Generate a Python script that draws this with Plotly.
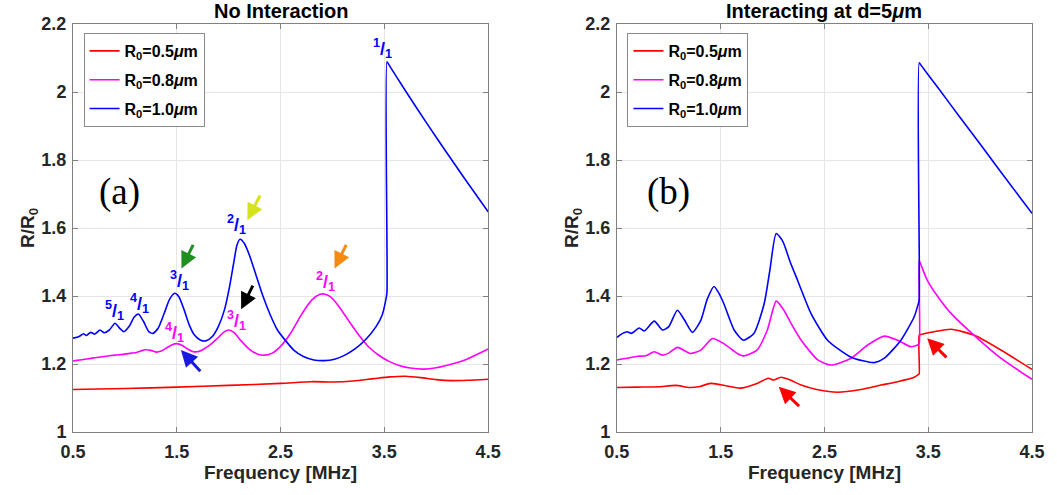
import plotly.graph_objects as go

# ---------------- data ----------------
# Panel (a): No Interaction
a_blue_f = [0.50, 0.56, 0.60, 0.63, 0.67, 0.71, 0.76, 0.80, 0.85, 0.905, 0.95, 0.99, 1.04, 1.09, 1.13,
            1.18, 1.23, 1.27, 1.32, 1.38, 1.43, 1.48, 1.52, 1.57, 1.62, 1.67, 1.73, 1.78, 1.84, 1.90,
            1.96, 2.01, 2.05, 2.08, 2.11, 2.15, 2.20, 2.26, 2.33, 2.40, 2.47, 2.55, 2.63, 2.72, 2.82,
            2.92, 3.02, 3.12, 3.22, 3.32, 3.42, 3.48, 3.515, 3.525, 3.525, 3.54, 3.70, 3.90, 4.10, 4.30, 4.50]
a_blue_v = [1.276, 1.281, 1.289, 1.284, 1.293, 1.288, 1.300, 1.292, 1.300, 1.320, 1.305, 1.295, 1.310, 1.338, 1.347,
            1.325, 1.295, 1.290, 1.305, 1.350, 1.390, 1.408, 1.398, 1.360, 1.315, 1.285, 1.270, 1.268, 1.280, 1.310,
            1.360, 1.430, 1.500, 1.550, 1.567, 1.555, 1.520, 1.465, 1.400, 1.345, 1.300, 1.268, 1.240, 1.222, 1.212,
            1.210, 1.214, 1.226, 1.245, 1.272, 1.310, 1.345, 1.390, 1.410, 2.089, 2.082, 2.005, 1.912, 1.822, 1.734, 1.648]

a_mag_f = [0.50, 0.60, 0.70, 0.80, 0.90, 1.00, 1.06, 1.10, 1.15, 1.20, 1.25, 1.30, 1.35, 1.40, 1.45, 1.50,
           1.55, 1.60, 1.65, 1.70, 1.75, 1.82, 1.90, 1.96, 2.00, 2.05, 2.12, 2.20, 2.28, 2.35, 2.42, 2.50,
           2.60, 2.70, 2.80, 2.88, 2.92, 2.98, 3.06, 3.15, 3.25, 3.35, 3.45, 3.55, 3.65, 3.75, 3.88, 4.00,
           4.15, 4.30, 4.50]
a_mag_v = [1.209, 1.213, 1.218, 1.222, 1.226, 1.229, 1.232, 1.233, 1.238, 1.242, 1.240, 1.235, 1.238, 1.247, 1.256, 1.260,
           1.255, 1.245, 1.237, 1.236, 1.242, 1.256, 1.278, 1.295, 1.300, 1.293, 1.268, 1.243, 1.229, 1.226, 1.232, 1.252,
           1.292, 1.345, 1.388, 1.405, 1.406, 1.398, 1.370, 1.330, 1.287, 1.250, 1.225, 1.207, 1.195, 1.188, 1.185, 1.189,
           1.200, 1.215, 1.244]

a_red_f = [0.50, 1.00, 1.50, 2.00, 2.50, 2.80, 3.00, 3.20, 3.40, 3.55, 3.70, 3.85, 4.00, 4.15, 4.30, 4.50]
a_red_v = [1.125, 1.128, 1.132, 1.137, 1.143, 1.148, 1.147, 1.150, 1.157, 1.162, 1.164, 1.160, 1.154, 1.151, 1.152, 1.155]

# Panel (b): Interacting at d=5um
b_blue_f = [0.50, 0.555, 0.60, 0.64, 0.715, 0.763, 0.86, 0.94, 1.00, 1.083, 1.15, 1.228, 1.31, 1.37, 1.436, 1.48,
            1.53, 1.63, 1.718, 1.82, 1.92, 1.974, 2.035, 2.10, 2.17, 2.24, 2.37, 2.53, 2.756, 2.98, 3.077,
            3.237, 3.365, 3.405, 3.413, 3.413, 3.43, 3.60, 3.80, 4.00, 4.20, 4.50]
b_blue_v = [1.278, 1.290, 1.295, 1.290, 1.306, 1.297, 1.326, 1.300, 1.310, 1.358, 1.330, 1.293, 1.329, 1.390, 1.428, 1.410,
            1.378, 1.300, 1.270, 1.290, 1.378, 1.475, 1.584, 1.560, 1.500, 1.447, 1.349, 1.270, 1.220, 1.204, 1.217,
            1.270, 1.339, 1.378, 1.388, 2.086, 2.079, 2.010, 1.928, 1.847, 1.765, 1.643]

b_mag_f = [0.50, 0.60, 0.70, 0.78, 0.86, 0.94, 1.00, 1.083, 1.21, 1.31, 1.42, 1.53, 1.66, 1.72, 1.85, 1.95,
           2.035, 2.11, 2.17, 2.276, 2.436, 2.564, 2.756, 2.917, 3.077, 3.205, 3.33, 3.397, 3.413, 3.413, 3.43,
           3.49, 3.60, 3.72, 3.94, 4.20, 4.50]
b_mag_v = [1.212, 1.217, 1.223, 1.224, 1.236, 1.226, 1.232, 1.249, 1.231, 1.241, 1.275, 1.260, 1.231, 1.224, 1.241, 1.300,
           1.385, 1.358, 1.324, 1.270, 1.212, 1.197, 1.217, 1.256, 1.282, 1.270, 1.251, 1.256, 1.260, 1.504, 1.492,
           1.447, 1.395, 1.349, 1.285, 1.217, 1.155]

b_red_f = [0.50, 0.70, 0.90, 1.067, 1.20, 1.30, 1.40, 1.50, 1.69, 1.85, 1.96, 2.01, 2.08, 2.17, 2.276, 2.436,
           2.628, 2.85, 3.045, 3.205, 3.365, 3.405, 3.413, 3.413, 3.43, 3.558, 3.72, 3.94, 4.20, 4.50]
b_red_v = [1.131, 1.132, 1.133, 1.137, 1.131, 1.134, 1.143, 1.139, 1.129, 1.143, 1.158, 1.153, 1.161, 1.153, 1.138, 1.124,
           1.117, 1.125, 1.138, 1.148, 1.161, 1.169, 1.171, 1.285, 1.287, 1.295, 1.302, 1.285, 1.241, 1.184]

series_names = ["R<sub>0</sub>=0.5<i>μ</i>m", "R<sub>0</sub>=0.8<i>μ</i>m", "R<sub>0</sub>=1.0<i>μ</i>m"]
series_colors = ["#ff0000", "#ff00ff", "#0000ff"]
panel_titles = ["No Interaction", "Interacting at d=5<i>μ</i>m"]
panel_tags = ["(a)", "(b)"]
x_ticks = [0.5, 1.5, 2.5, 3.5, 4.5]
y_ticks = [1, 1.2, 1.4, 1.6, 1.8, 2, 2.2]
y_ticktext = ["1", "1.2", "1.4", "1.6", "1.8", "2", "2.2"]

# resonance labels in panel (a): (numerator, f, v, colour)
frac_labels = [("1", 3.48, 2.128, "#0000ff"), ("2", 2.08, 1.609, "#0000ff"), ("3", 1.53, 1.447, "#0000ff"),
               ("4", 1.14, 1.379, "#0000ff"), ("5", 0.90, 1.357, "#0000ff"),
               ("4", 1.48, 1.292, "#ff00ff"), ("3", 2.08, 1.327, "#ff00ff"), ("2", 2.93, 1.442, "#ff00ff")]
# arrows: (tip f, tip v, tail f, tail v, colour, panel)
arrows = [(2.18, 1.623, 2.31, 1.700, "#d6e21e", 0), (1.545, 1.481, 1.665, 1.555, "#1f8f1f", 0),
          (2.12, 1.361, 2.24, 1.435, "#000000", 0), (3.02, 1.481, 3.14, 1.555, "#f58a10", 0),
          (1.54, 1.241, 1.74, 1.174, "#1a1adc", 0),
          (2.06, 1.133, 2.27, 1.072, "#ff0000", 1), (3.49, 1.276, 3.69, 1.215, "#ff0000", 1)]

# ---------------- figure ----------------
fig = go.Figure()
data_sets = [
    [(a_red_f, a_red_v), (a_mag_f, a_mag_v), (a_blue_f, a_blue_v)],
    [(b_red_f, b_red_v), (b_mag_f, b_mag_v), (b_blue_f, b_blue_v)],
]
for p, sets in enumerate(data_sets):
    xa = "x" if p == 0 else "x2"
    ya = "y" if p == 0 else "y2"
    lg = "legend" if p == 0 else "legend2"
    for k, ((fx, vy), name, col) in enumerate(zip(sets, series_names, series_colors)):
        fig.add_trace(go.Scatter(x=fx, y=vy, mode="lines", name=name, xaxis=xa, yaxis=ya, legend=lg,
                                 legendgroup="g%d_%d" % (p, k),
                                 line=dict(color=col, width=1.6, shape="spline", smoothing=0.6)))

tick_font = dict(family="Liberation Sans, Arial", size=18, color="#262626", weight="bold")
axis_common = dict(range=[0.5, 4.5], showgrid=True, gridcolor="#e6e6e6", gridwidth=1,
                   showline=True, linecolor="#808080", linewidth=1, mirror="ticks",
                   ticks="inside", ticklen=5, tickcolor="#808080", zeroline=False, tickfont=tick_font)
yaxis_common = dict(axis_common)
yaxis_common["range"] = [1, 2.2]

L, R, T, B = 73, 23, 24, 63
W, H = 1057, 495
pw = W - L - R
d1 = [0, (489 - 73) / pw]
d2 = [(618 - 73) / pw, 1]

title_font = dict(family="Liberation Sans, Arial", size=19, color="#262626", weight="bold")
legend_font = dict(family="Liberation Sans, Arial", size=16, color="#000000", weight="bold")
fig.update_layout(
    width=W, height=H, margin=dict(l=L, r=R, t=T, b=B),
    paper_bgcolor="white", plot_bgcolor="white", showlegend=True,
    xaxis=dict(axis_common, domain=d1, tickvals=x_ticks, ticktext=[str(t) for t in x_ticks],
               ticklabelstandoff=3,
               title=dict(text="Frequency [MHz]", font=title_font, standoff=2)),
    yaxis=dict(yaxis_common, tickvals=y_ticks, ticktext=y_ticktext, ticklabelstandoff=2,
               title=dict(text="R/R<sub>0</sub>", font=title_font, standoff=0)),
    xaxis2=dict(axis_common, domain=d2, anchor="y2", tickvals=x_ticks, ticktext=[str(t) for t in x_ticks],
                ticklabelstandoff=3,
                title=dict(text="Frequency [MHz]", font=title_font, standoff=2)),
    yaxis2=dict(yaxis_common, anchor="x2", tickvals=y_ticks, ticktext=y_ticktext, ticklabelstandoff=2,
                title=dict(text="R/R<sub>0</sub>", font=title_font, standoff=0)),
    legend=dict(x=d1[0] + 0.011, y=0.978, xanchor="left", yanchor="top", bgcolor="white",
                bordercolor="#8a8a8a", borderwidth=1, tracegroupgap=5, itemwidth=30, font=legend_font),
    legend2=dict(x=d2[0] + 0.011, y=0.978, xanchor="left", yanchor="top", bgcolor="white",
                 bordercolor="#8a8a8a", borderwidth=1, tracegroupgap=5, itemwidth=30, font=legend_font),
)

# panel titles and tags
for p in range(2):
    xr = "x domain" if p == 0 else "x2 domain"
    fig.add_annotation(text=panel_titles[p], xref=xr, yref="paper", x=0.5, y=1.0, yshift=0,
                       xanchor="center", yanchor="bottom", showarrow=False,
                       font=dict(family="Liberation Sans, Arial", size=20, color="#000000", weight="bold"))
    fig.add_annotation(text=panel_tags[p], xref="x" if p == 0 else "x2", yref="y" if p == 0 else "y2",
                       x=0.95 if p == 0 else 1.0, y=1.707, showarrow=False,
                       font=dict(family="Liberation Serif, Times New Roman", size=37, color="#000000"))

for num, fx, vy, col in frac_labels:
    fig.add_annotation(text="<b><sup>" + num + "</sup>/<sub>1</sub></b>", xref="x", yref="y", x=fx, y=vy,
                       showarrow=False, font=dict(family="Liberation Sans, Arial", size=18, color=col))

for tf, tv, af, av, col, p in arrows:
    xr = "x" if p == 0 else "x2"
    yr = "y" if p == 0 else "y2"
    fig.add_annotation(text="", x=tf, y=tv, ax=af, ay=av, xref=xr, yref=yr, axref=xr, ayref=yr,
                       showarrow=True, arrowhead=2, arrowsize=1.1, arrowwidth=3, arrowcolor=col)

fig.write_html("out.html")
